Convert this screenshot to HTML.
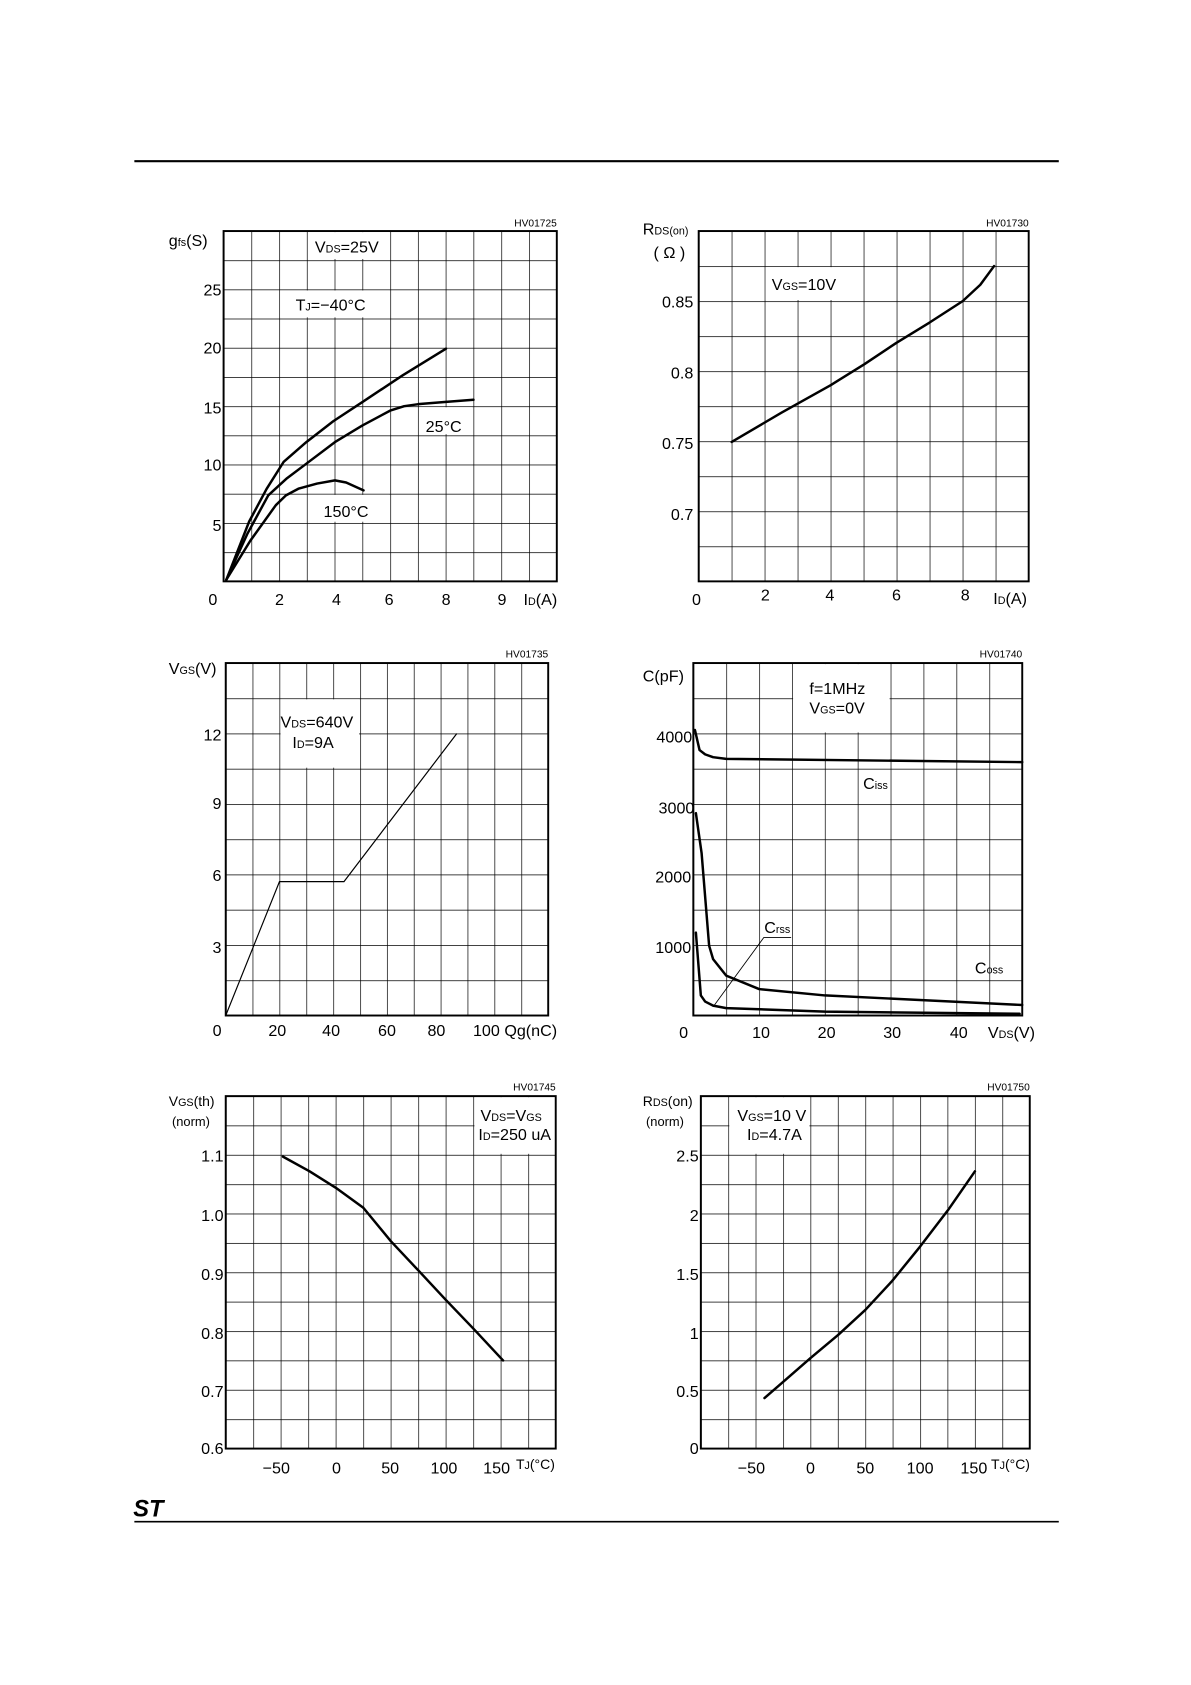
<!DOCTYPE html>
<html><head><meta charset="utf-8"><style>
html,body{margin:0;padding:0;background:#fff}
svg{display:block}
text{font-family:"Liberation Sans",Arial,sans-serif;fill:#000}
.t{font-size:15px}
.s{font-size:10px}
.hv{font-size:9.5px}
.c{fill:none;stroke:#000;stroke-width:2.3;stroke-linejoin:round;stroke-linecap:round}
.th{fill:none;stroke:#000;stroke-width:1.1}
.b{fill:none;stroke:#000;stroke-width:1.8}
.w{fill:#fff;stroke:none}
</style></head><body>
<svg width="1191" height="1685" viewBox="0 0 1108 1568" preserveAspectRatio="none" xmlns="http://www.w3.org/2000/svg">
<defs>
<pattern id="g1" patternUnits="userSpaceOnUse" x="208" y="215" width="25.833" height="27.167"><path d="M0 0H30M0 0V30" stroke="#000" stroke-width="1.3"/></pattern>
<pattern id="g2" patternUnits="userSpaceOnUse" x="650" y="215" width="30.7" height="32.6"><path d="M0 0H40M0 0V40" stroke="#000" stroke-width="1.3"/></pattern>
<pattern id="g3" patternUnits="userSpaceOnUse" x="210" y="617" width="25" height="32.8"><path d="M0 0H40M0 0V40" stroke="#000" stroke-width="1.3"/></pattern>
<pattern id="g4" patternUnits="userSpaceOnUse" x="645" y="617" width="30.6" height="32.8"><path d="M0 0H40M0 0V40" stroke="#000" stroke-width="1.3"/></pattern>
<pattern id="g5" patternUnits="userSpaceOnUse" x="210" y="1020" width="25.583" height="27.333"><path d="M0 0H40M0 0V40" stroke="#000" stroke-width="1.3"/></pattern>
<pattern id="g6" patternUnits="userSpaceOnUse" x="652" y="1020" width="25.5" height="27.333"><path d="M0 0H40M0 0V40" stroke="#000" stroke-width="1.3"/></pattern>
</defs>
<line x1="125" y1="150" x2="985" y2="150" stroke="#000" stroke-width="2"/>
<line x1="125" y1="1416" x2="985" y2="1416" stroke="#000" stroke-width="1.5"/>
<text x="124" y="1411" style="font-size:22px;font-style:italic;font-weight:bold">ST</text>

<!-- Chart 1 -->
<rect x="208" y="215" width="310" height="326" fill="url(#g1)"/>
<rect class="w" x="286.5" y="216" width="75.5" height="25"/>
<rect class="w" x="260.7" y="270.3" width="101.3" height="25"/>
<rect class="w" x="390" y="379" width="49" height="25"/>
<rect class="w" x="286.5" y="460.5" width="75.5" height="25"/>
<rect class="b" x="208" y="215" width="310" height="326"/>
<polyline class="c" points="210.6,539.4 231.8,485.3 248,455 263.8,429.9 285,411.4 310,392 336.6,374.5 375,349 414.9,324.5"/>
<polyline class="c" points="210.6,539.4 230,497 249.6,460.9 267,445 285,431.5 311.6,411.4 337,396 363,382.1 376,378 389.1,376.1 415,374 440.5,372"/>
<polyline class="c" points="210.6,539.4 233,503 256.6,470.1 266,461 278,454.6 295,450 311.6,447 322,449 338.2,456.3"/>
<text class="t" x="293" y="235">V<tspan class="s">DS</tspan>=25V</text>
<text class="t" x="275" y="289">T<tspan class="s">J</tspan>=−40°C</text>
<text class="t" x="396" y="402">25°C</text>
<text class="t" x="301" y="481">150°C</text>
<text class="t" x="157" y="229">g<tspan class="s">fs</tspan>(S)</text>
<g class="t" text-anchor="end"><text x="206" y="275">25</text><text x="206" y="329">20</text><text x="206" y="385">15</text><text x="206" y="438">10</text><text x="206" y="494">5</text></g>
<g class="t" text-anchor="middle"><text x="198" y="563">0</text><text x="260" y="563">2</text><text x="313" y="563">4</text><text x="362" y="563">6</text><text x="415" y="563">8</text><text x="467" y="563">9</text></g>
<text class="t" x="487" y="563">I<tspan class="s">D</tspan>(A)</text>
<text class="hv" x="518" y="211" text-anchor="end">HV01725</text>

<!-- Chart 2 -->
<rect x="650" y="215" width="307" height="326" fill="url(#g2)"/>
<rect class="w" x="712.4" y="248.6" width="90" height="30.6"/>
<rect class="b" x="650" y="215" width="307" height="326"/>
<polyline class="c" points="680.7,411.3 727,384 772.8,358.4 804,339 834,319 865,300 895.6,280.2 912,265 924.8,247.6"/>
<text class="t" x="718" y="270">V<tspan class="s">GS</tspan>=10V</text>
<text class="t" x="598" y="218">R<tspan class="s">DS(on)</tspan></text>
<text class="t" x="608" y="240">( Ω )</text>
<g class="t" text-anchor="end"><text x="645" y="286">0.85</text><text x="645" y="352">0.8</text><text x="645" y="418">0.75</text><text x="645" y="484">0.7</text></g>
<g class="t" text-anchor="middle"><text x="648" y="563">0</text><text x="712" y="559">2</text><text x="772" y="559">4</text><text x="834" y="559">6</text><text x="898" y="559">8</text></g>
<text class="t" x="924" y="562">I<tspan class="s">D</tspan>(A)</text>
<text class="hv" x="957" y="211" text-anchor="end">HV01730</text>

<!-- Chart 3 -->
<rect x="210" y="617" width="300" height="328" fill="url(#g3)"/>
<rect class="w" x="261" y="650.8" width="73" height="63.6"/>
<rect class="b" x="210" y="617" width="300" height="328"/>
<polyline class="th" points="210,945 260,820.4 320,820.4 425,682.6"/>
<text class="t" x="261" y="677">V<tspan class="s">DS</tspan>=640V</text>
<text class="t" x="272" y="696">I<tspan class="s">D</tspan>=9A</text>
<text class="t" x="157" y="627">V<tspan class="s">GS</tspan>(V)</text>
<g class="t" text-anchor="end"><text x="206" y="689">12</text><text x="206" y="753">9</text><text x="206" y="820">6</text><text x="206" y="887">3</text></g>
<g class="t" text-anchor="middle"><text x="202" y="964">0</text><text x="258" y="964">20</text><text x="308" y="964">40</text><text x="360" y="964">60</text><text x="406" y="964">80</text></g>
<text class="t" x="440" y="964">100 Qg(nC)</text>
<text class="hv" x="510" y="612" text-anchor="end">HV01735</text>

<!-- Chart 4 -->
<rect x="645" y="617" width="306" height="328" fill="url(#g4)"/>
<rect class="w" x="737.8" y="618" width="89.8" height="63.6"/>
<rect class="b" x="645" y="617" width="306" height="328"/>
<polyline class="c" points="646.5,679.3 650.8,698 656,702 663.4,704.6 675.6,706.2 951,709.2"/>
<polyline class="c" points="647.4,756.7 652.7,793.8 659.7,880 663.4,892.5 675.6,907.9 706.2,920.4 767.4,926.3 951,935.2"/>
<polyline class="c" points="647.4,867.9 652,926.3 656,932 663.4,935.8 675.6,938.1 767.4,941.4 948.6,943.4"/>
<polyline class="th" points="663.4,937 710.5,872.5 736,872.5" style="stroke-width:0.8"/>
<text class="t" x="711" y="868">C<tspan class="s">rss</tspan></text>
<text class="t" x="803" y="734">C<tspan class="s">iss</tspan></text>
<text class="t" x="907" y="906">C<tspan class="s">oss</tspan></text>
<text class="t" x="753" y="646">f=1MHz</text>
<text class="t" x="753" y="664">V<tspan class="s">GS</tspan>=0V</text>
<text class="t" x="598" y="634">C(pF)</text>
<g class="t" text-anchor="end"><text x="644" y="691">4000</text><text x="646" y="757">3000</text><text x="643" y="821">2000</text><text x="643" y="887">1000</text></g>
<g class="t" text-anchor="middle"><text x="636" y="966">0</text><text x="708" y="966">10</text><text x="769" y="966">20</text><text x="830" y="966">30</text><text x="892" y="966">40</text></g>
<text class="t" x="919" y="966">V<tspan class="s">DS</tspan>(V)</text>
<text class="hv" x="951" y="612" text-anchor="end">HV01740</text>

<!-- Chart 5 -->
<rect x="210" y="1020" width="307" height="328" fill="url(#g5)"/>
<rect class="w" x="441.4" y="1021" width="75" height="52.7"/>
<rect class="b" x="210" y="1020" width="307" height="328"/>
<polyline class="c" points="263.2,1076.3 288,1090 312.4,1105.3 338,1123.9 363.6,1155 389,1182 414.8,1209.7 441,1237 468,1266"/>
<text class="t" x="447" y="1043">V<tspan class="s">DS</tspan>=V<tspan class="s">GS</tspan></text>
<text class="t" x="445" y="1061">I<tspan class="s">D</tspan>=250 uA</text>
<text class="t" x="157" y="1029" style="font-size:13px">V<tspan class="s">GS</tspan>(th)</text>
<text class="t" x="160" y="1048" style="font-size:12px">(norm)</text>
<g class="t" text-anchor="end"><text x="208" y="1081">1.1</text><text x="208" y="1136">1.0</text><text x="208" y="1191">0.9</text><text x="208" y="1246">0.8</text><text x="208" y="1300">0.7</text><text x="208" y="1353">0.6</text></g>
<g class="t" text-anchor="middle"><text x="257" y="1371">−50</text><text x="313" y="1371">0</text><text x="363" y="1371">50</text><text x="413" y="1371">100</text><text x="462" y="1371">150</text></g>
<text class="t" x="480" y="1367" style="font-size:13px">T<tspan class="s">J</tspan>(°C)</text>
<text class="hv" x="517" y="1015" text-anchor="end">HV01745</text>

<!-- Chart 6 -->
<rect x="652" y="1020" width="306" height="328" fill="url(#g6)"/>
<rect class="w" x="678.5" y="1021" width="74.5" height="52.7"/>
<rect class="b" x="652" y="1020" width="306" height="328"/>
<polyline class="c" points="711.2,1301 732,1283 754,1263.8 780,1242 805,1219 830,1192 856,1160 882,1126 907,1090"/>
<text class="t" x="686" y="1043">V<tspan class="s">GS</tspan>=10 V</text>
<text class="t" x="695" y="1061">I<tspan class="s">D</tspan>=4.7A</text>
<text class="t" x="598" y="1029" style="font-size:13px">R<tspan class="s">DS</tspan>(on)</text>
<text class="t" x="601" y="1048" style="font-size:12px">(norm)</text>
<g class="t" text-anchor="end"><text x="650" y="1081">2.5</text><text x="650" y="1136">2</text><text x="650" y="1191">1.5</text><text x="650" y="1246">1</text><text x="650" y="1300">0.5</text><text x="650" y="1353">0</text></g>
<g class="t" text-anchor="middle"><text x="699" y="1371">−50</text><text x="754" y="1371">0</text><text x="805" y="1371">50</text><text x="856" y="1371">100</text><text x="906" y="1371">150</text></g>
<text class="t" x="922" y="1367" style="font-size:13px">T<tspan class="s">J</tspan>(°C)</text>
<text class="hv" x="958" y="1015" text-anchor="end">HV01750</text>
</svg>
</body></html>
